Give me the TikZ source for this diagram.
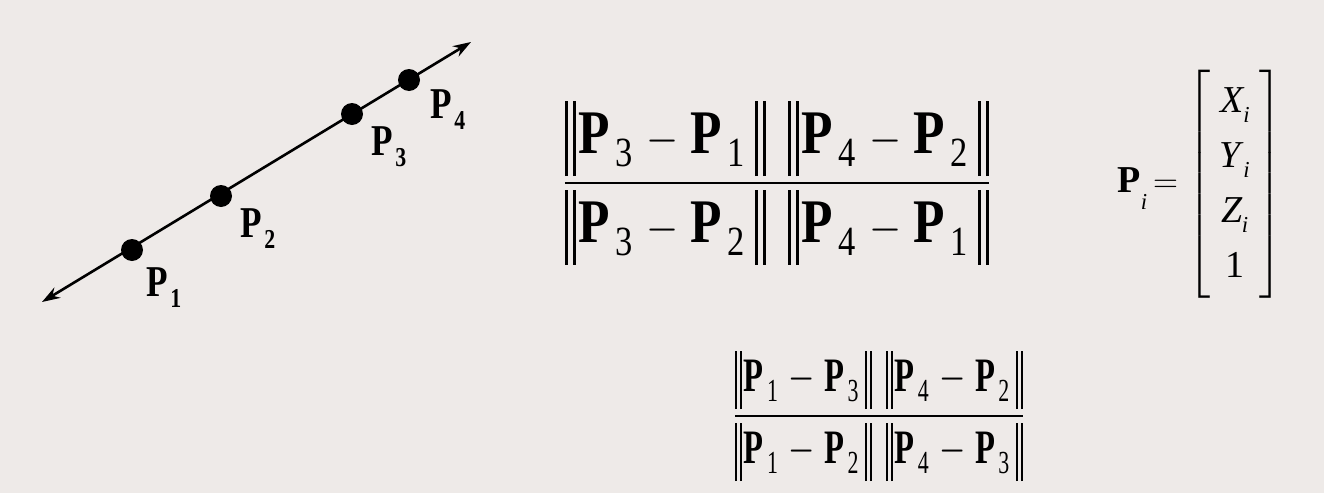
\documentclass[tikz,border=0pt]{standalone}
\usepackage{amsmath}
\usepackage{fontspec}
\setmainfont{Liberation Serif}
\usepackage{tikz}
\usetikzlibrary{arrows.meta, positioning}
\definecolor{slidebg}{HTML}{EEEAE8}
% bold P with a large, slightly lowered subscript
\newcommand{\Pb}[1]{\mbox{\textbf{P}\kern0.1em\raisebox{-0.21em}{\scalebox{0.67}{#1}}}}
\newcommand{\Pl}[1]{\mbox{\textbf{P}\kern0.06em\raisebox{-0.25em}{\scalebox{0.62}{\textbf{#1}}}}}
\newcommand{\dbar}{\mbox{\vrule width 0.06em height 0.85em depth 0.36em\kern0.1em\vrule width 0.06em height 0.85em depth 0.36em}}
\newcommand{\nrm}[1]{\dbar\mbox{\kern0.05em}#1\mbox{\kern0.2em}\dbar}
\newcommand{\mi}{\mbox{\kern0.1em}-\mbox{\kern0.05em}}
\newcommand{\gap}{\mbox{\kern0.42em}}
\newcommand{\ivar}[1]{\mbox{\textit{#1}\kern-0.03em\raisebox{-0.26em}{\scalebox{0.6}{\textit{i}}}}}

\begin{document}
\begin{tikzpicture}[x=0.5pt, y=-0.5pt]
    \tikzset{
        dot/.style={circle, fill=black, inner sep=0pt, minimum size=11pt},
        ptlabel/.style={font=\fontsize{22}{26}\selectfont, inner sep=0pt}
    }
    % Background
    \fill[slidebg] (0,0) rectangle (1324,493);
    \useasboundingbox (0,0) rectangle (1324,493);

    % The line through the points
    \coordinate (lineA) at (42,302);
    \coordinate (lineB) at (471,42);
    \draw[line width=1.3pt, {Stealth[length=9pt,width=6pt]}-{Stealth[length=9pt,width=6pt]}] (lineA) -- (lineB);

    % Points on the line
    \node[dot] (p1) at (132,250) {};
    \node[dot] (p2) at (221,196) {};
    \node[dot] (p3) at (352,114) {};
    \node[dot] (p4) at (409,80) {};

    % Labels
    \node[ptlabel] (l1) at (164,288) {\scalebox{0.8}[1]{\Pl{1}}};
    \node[ptlabel] (l2) at (258,229) {\scalebox{0.8}[1]{\Pl{2}}};
    \node[ptlabel] (l3) at (389,147) {\scalebox{0.8}[1]{\Pl{3}}};
    \node[ptlabel] (l4) at (448,110) {\scalebox{0.8}[1]{\Pl{4}}};

    % Cross ratio
    \node[font=\fontsize{31}{37}\selectfont, inner sep=0pt] (ratioA) at (777,183)
        {\scalebox{0.83}[1]{$\dfrac{\nrm{\Pb{3}\mi\Pb{1}}\gap\nrm{\Pb{4}\mi\Pb{2}}}{\nrm{\Pb{3}\mi\Pb{2}}\gap\nrm{\Pb{4}\mi\Pb{1}}}$}};

    % Homogeneous point
    \node[font=\fontsize{19}{23}\selectfont, inner sep=0pt] (pvec) at (1200,184)
        {\def\arraystretch{1.2}$\mbox{\textbf{P}\raisebox{-0.45em}{\scalebox{0.6}{\textit{i}}}}\mbox{\kern0.15em}{=}\mbox{\kern0.1em}\left[\begin{array}{@{\hspace{0.25em}}c@{\hspace{0.25em}}} \ivar{X}\\ \ivar{Y}\\ \ivar{Z}\\ \mbox{1} \end{array}\right]$};

    % Second cross ratio
    \node[font=\fontsize{24}{29}\selectfont, inner sep=0pt] (ratioB) at (879,416)
        {\scalebox{0.68}[1]{$\dfrac{\nrm{\Pb{1}\mi\Pb{3}}\gap\nrm{\Pb{4}\mi\Pb{2}}}{\nrm{\Pb{1}\mi\Pb{2}}\gap\nrm{\Pb{4}\mi\Pb{3}}}$}};
\end{tikzpicture}
\end{document}
